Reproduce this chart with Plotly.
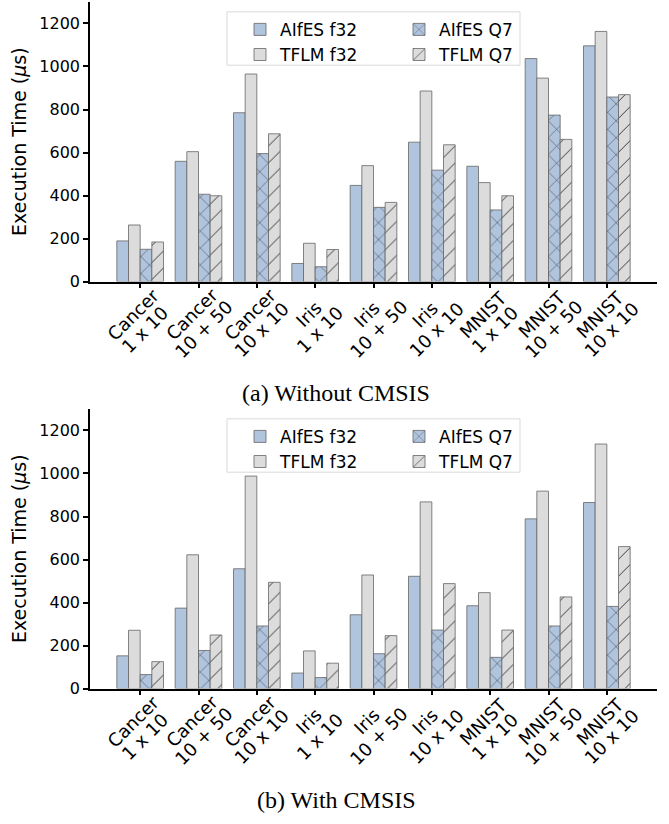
import plotly.graph_objects as go

categories = ["Cancer<br>1 x 10", "Cancer<br>10 + 50", "Cancer<br>10 x 10",
              "Iris<br>1 x 10", "Iris<br>10 + 50", "Iris<br>10 x 10",
              "MNIST<br>1 x 10", "MNIST<br>10 + 50", "MNIST<br>10 x 10"]
series_names = ["AIfES f32", "TFLM f32", "AIfES Q7", "TFLM Q7"]

# (a) Without CMSIS
a_aifes_f32 = [189, 559, 785, 84, 447, 648, 536, 1037, 1096]
a_tflm_f32 = [263, 604, 965, 178, 539, 886, 460, 946, 1163]
a_aifes_q7 = [150, 406, 595, 69, 345, 518, 333, 774, 858]
a_tflm_q7 = [184, 399, 687, 149, 368, 636, 399, 661, 869]

# (b) With CMSIS
b_aifes_f32 = [152, 374, 557, 72, 343, 522, 385, 789, 865]
b_tflm_f32 = [271, 622, 988, 175, 528, 868, 446, 918, 1137]
b_aifes_q7 = [65, 177, 291, 51, 162, 272, 145, 291, 382]
b_tflm_q7 = [125, 249, 494, 118, 246, 488, 272, 426, 660]

captions = ["(a) Without CMSIS", "(b) With CMSIS"]
y_title = "Execution Time (<i>μ</i>s)"

BLUE = "#B0C4DE"
GREY = "#DCDCDC"
colors = [BLUE, GREY, BLUE, GREY]
patterns = ["", "", "x", "/"]

W, H = 669, 824
def py(p):
    return 1 - p / H
def px(p):
    return p / W

fig = go.Figure()
x_idx = list(range(len(categories)))

panels = [
    (dict(xaxis="x", yaxis="y"), [a_aifes_f32, a_tflm_f32, a_aifes_q7, a_tflm_q7], ["legend", "legend", "legend2", "legend2"]),
    (dict(xaxis="x2", yaxis="y2"), [b_aifes_f32, b_tflm_f32, b_aifes_q7, b_tflm_q7], ["legend3", "legend3", "legend4", "legend4"]),
]
for axes, data, legs in panels:
    for name, vals, col, pat, leg in zip(series_names, data, colors, patterns, legs):
        fig.add_trace(go.Bar(
            x=x_idx, y=vals, name=name, legend=leg,
            marker=dict(color=col, line=dict(color="#666666", width=0.8),
                        pattern=dict(shape=pat, fgcolor="#333333", bgcolor=col,
                                     size=12, solidity=0.08, fillmode="replace")),
            **axes))

font_family = "DejaVu Sans"
xcommon = dict(range=[-0.86, 8.86], tickmode="array", tickvals=x_idx,
               showticklabels=False, ticks="outside", ticklen=5, tickwidth=1.5,
               tickcolor="black", showline=True, linecolor="black", linewidth=1.5,
               showgrid=False, zeroline=False, domain=[px(90), px(657)])
ycommon = dict(range=[0, 1300], tickvals=[0, 200, 400, 600, 800, 1000, 1200],
               ticks="outside", ticklen=5, tickwidth=1.5, tickcolor="black",
               showline=True, linecolor="black", linewidth=1.5, showgrid=False,
               zeroline=False, tickfont=dict(family=font_family, size=16, color="black"),
               title=dict(text=y_title, font=dict(family=font_family, size=19, color="black"),
                          standoff=8))

legfont = dict(family=font_family, size=17, color="black")
def leg(x, ytop):
    return dict(x=px(x), y=py(ytop), xanchor="left", yanchor="top",
                bgcolor="rgba(0,0,0,0)", borderwidth=0, font=legfont,
                tracegroupgap=0, itemwidth=30)

fig.update_layout(
    width=W, height=H, margin=dict(l=0, r=0, t=0, b=0),
    paper_bgcolor="white", plot_bgcolor="white",
    barmode="group", bargap=0.2, bargroupgap=0,
    xaxis=dict(**xcommon, anchor="y"),
    yaxis=dict(**ycommon, domain=[py(285), py(2)], anchor="x"),
    xaxis2=dict(**xcommon, anchor="y2"),
    yaxis2=dict(**ycommon, domain=[py(697), py(414)], anchor="x2"),
    legend=leg(240, 12),
    legend2=leg(399, 12),
    legend3=leg(240, 424),
    legend4=leg(399, 424),
    showlegend=True,
)

# legend frames
for y0, y1 in [(12, 66), (424, 478)]:
    fig.add_shape(type="rect", xref="paper", yref="paper",
                  x0=px(227), x1=px(520), y0=py(y1), y1=py(y0),
                  line=dict(color="#d9d9d9", width=1), fillcolor="rgba(255,255,255,0.8)",
                  layer="below")

# rotated two-line category labels (each line placed separately, matplotlib-like spacing)
for xa, y1c, y2c in [("x", 318, 334), ("x2", 730, 746)]:
    for i, lab in enumerate(categories):
        line1, line2 = lab.split("<br>")
        for txt, xs, yc in [(line1, -7, y1c), (line2, 5, y2c)]:
            fig.add_annotation(x=i, xref=xa, xshift=xs, y=py(yc), yref="paper",
                               text=txt, textangle=-45, showarrow=False,
                               xanchor="center", yanchor="middle",
                               font=dict(family=font_family, size=18, color="black"))

for cap, yc in zip(captions, [398, 810]):
    fig.add_annotation(x=px(336), y=py(yc), xref="paper", yref="paper",
                       text=cap, showarrow=False, xanchor="center", yanchor="middle",
                       font=dict(family="Liberation Serif", size=24, color="black"))

fig.write_html("out.html")
